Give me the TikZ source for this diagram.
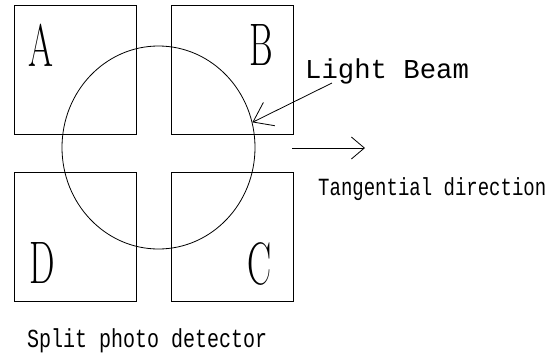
\documentclass[tikz,border=0pt]{standalone}
\usepackage{fontspec}
\setmonofont{Liberation Mono}
\usetikzlibrary{arrows.meta, positioning, shapes.geometric}
\newcommand{\narrow}[1]{\scalebox{0.6}[1]{#1}}
\newcommand{\tall}[2]{\scalebox{#1}[1.3]{#2}}
\tikzset{
  cell/.style={
    rectangle,
    draw,
    minimum width=122pt,
    minimum height=129pt,
    inner sep=0pt,
    line width=0.8pt
  },
  quad/.style={
    anchor=base,
    inner sep=0pt,
    font=\fontsize{60}{60}\selectfont
  },
  caption/.style={
    anchor=base west,
    inner sep=0pt,
    font=\ttfamily\fontsize{20}{24}\selectfont
  },
  spot/.style={
    ellipse,
    draw,
    minimum width=193pt,
    minimum height=203pt,
    inner sep=0pt,
    line width=0.8pt
  },
  arrow/.style={-{Straight Barb[length=18pt, width=26pt]}, line width=0.8pt},
  dirarrow/.style={-{Straight Barb[length=13pt, width=22pt]}, line width=0.8pt}
}
\begin{document}
\begin{tikzpicture}[x=1pt, y=-1pt, node distance=37pt and 35pt]
  \useasboundingbox (0,0) rectangle (555,357);

  % the four quadrants
  \node[cell] (A) at (75,70) {};
  \node[cell, right=of A] (B) {};
  \node[cell, below=of A] (D) {};
  \node[cell, right=of D] (C) {};

  \node[quad] (la) at (41,66) {\narrow{A}};
  \node[quad] (lb) at (261,65) {\narrow{B}};
  \node[quad] (lc) at (260,284) {\narrow{C}};
  \node[quad] (ld) at (42.5,283) {\narrow{D}};

  % beam spot
  \node[spot] (beam) at (158.5,147.5) {};

  % labels
  \node[caption, font=\ttfamily\fontsize{21}{24}\selectfont] (light) at (305,78) {\tall{1.3}{Light Beam}};
  \node[caption, font=\ttfamily\fontsize{19}{24}\selectfont] (tang) at (318,195) {\tall{1}{Tangential direction}};
  \node[caption] (split) at (27,347) {\tall{1}{Split photo detector}};

  \coordinate (lbtail) at (332,83);
  \coordinate (tdtail) at (292,148);
  \coordinate (tdhead) at (365,148);

  \draw[arrow] (lbtail) -- (beam.15);
  \draw[dirarrow] (tdtail) -- (tdhead);
\end{tikzpicture}
\end{document}
